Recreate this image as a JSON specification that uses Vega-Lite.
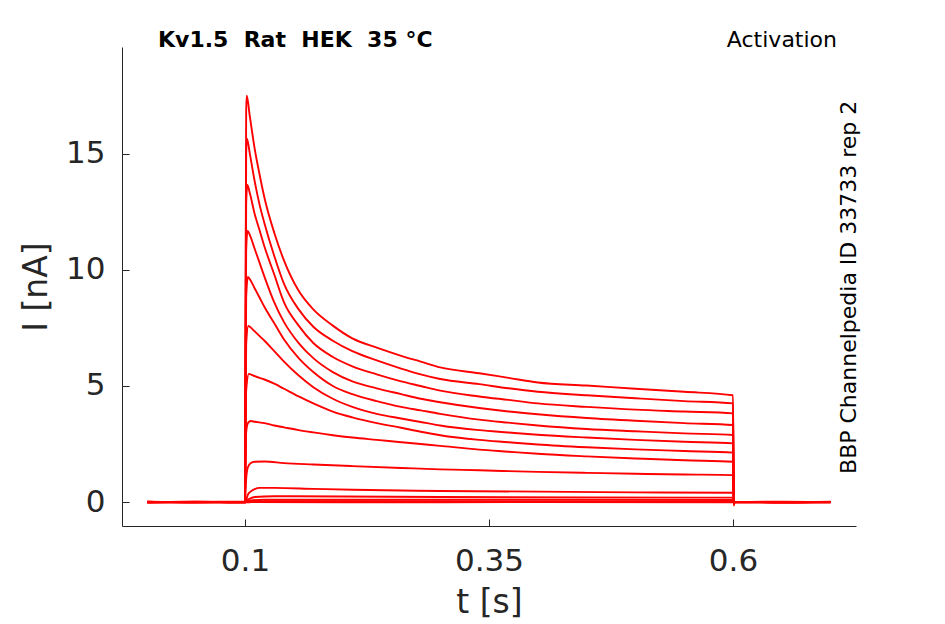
{
  "$schema": "https://vega.github.io/schema/vega-lite/v6.json",
  "width": 734,
  "height": 479,
  "autosize": {"type": "none"},
  "padding": {"left": 122, "top": 47, "right": 89, "bottom": 98},
  "background": "white",
  "layer": [
    {
      "data": {
        "values": [
          {"s":1,"t":0,"i":0.02},{"s":1,"t":0.05,"i":-0.01},{"s":1,"t":0.1,"i":0.01},{"s":1,"t":0.1012,"i":16.8},{"s":1,"t":0.1018,"i":17.5},
          {"s":1,"t":0.105,"i":16.6},{"s":1,"t":0.11,"i":15.2},{"s":1,"t":0.115,"i":14.1},{"s":1,"t":0.12,"i":13.1},{"s":1,"t":0.13,"i":11.6},
          {"s":1,"t":0.14,"i":10.4},{"s":1,"t":0.155,"i":9.1},{"s":1,"t":0.17,"i":8.3},{"s":1,"t":0.19,"i":7.6},{"s":1,"t":0.21,"i":7.05},
          {"s":1,"t":0.235,"i":6.65},{"s":1,"t":0.26,"i":6.3},{"s":1,"t":0.28,"i":6.05},{"s":1,"t":0.3,"i":5.8},{"s":1,"t":0.34,"i":5.55},
          {"s":1,"t":0.37,"i":5.35},{"s":1,"t":0.4,"i":5.15},{"s":1,"t":0.45,"i":5.02},{"s":1,"t":0.5,"i":4.88},{"s":1,"t":0.55,"i":4.75},
          {"s":1,"t":0.6,"i":4.6},{"s":1,"t":0.6008,"i":-0.15},{"s":1,"t":0.6016,"i":0.01},{"s":1,"t":0.65,"i":-0.01},{"s":1,"t":0.7,"i":0.01},

          {"s":2,"t":0,"i":0},{"s":2,"t":0.05,"i":0.02},{"s":2,"t":0.1,"i":-0.01},{"s":2,"t":0.1012,"i":15.0},{"s":2,"t":0.102,"i":15.65},
          {"s":2,"t":0.105,"i":15.0},{"s":2,"t":0.11,"i":13.8},{"s":2,"t":0.115,"i":12.8},{"s":2,"t":0.12,"i":12.0},{"s":2,"t":0.13,"i":10.6},
          {"s":2,"t":0.14,"i":9.4},{"s":2,"t":0.155,"i":8.3},{"s":2,"t":0.17,"i":7.55},{"s":2,"t":0.19,"i":6.95},{"s":2,"t":0.21,"i":6.5},
          {"s":2,"t":0.235,"i":6.1},{"s":2,"t":0.26,"i":5.75},{"s":2,"t":0.28,"i":5.5},{"s":2,"t":0.3,"i":5.3},{"s":2,"t":0.34,"i":5.08},
          {"s":2,"t":0.37,"i":4.9},{"s":2,"t":0.4,"i":4.75},{"s":2,"t":0.45,"i":4.6},{"s":2,"t":0.5,"i":4.47},{"s":2,"t":0.55,"i":4.35},
          {"s":2,"t":0.6,"i":4.25},{"s":2,"t":0.6008,"i":-0.12},{"s":2,"t":0.6016,"i":0},{"s":2,"t":0.65,"i":0.01},{"s":2,"t":0.7,"i":0},

          {"s":3,"t":0,"i":-0.01},{"s":3,"t":0.05,"i":0.01},{"s":3,"t":0.1,"i":0.02},{"s":3,"t":0.1012,"i":12.8},{"s":3,"t":0.1024,"i":13.66},
          {"s":3,"t":0.105,"i":13.3},{"s":3,"t":0.11,"i":12.4},{"s":3,"t":0.115,"i":11.7},{"s":3,"t":0.12,"i":11.0},{"s":3,"t":0.13,"i":9.8},
          {"s":3,"t":0.14,"i":8.6},{"s":3,"t":0.155,"i":7.6},{"s":3,"t":0.17,"i":6.85},{"s":3,"t":0.19,"i":6.25},{"s":3,"t":0.21,"i":5.85},
          {"s":3,"t":0.235,"i":5.5},{"s":3,"t":0.26,"i":5.2},{"s":3,"t":0.28,"i":5.0},{"s":3,"t":0.3,"i":4.8},{"s":3,"t":0.34,"i":4.55},
          {"s":3,"t":0.37,"i":4.4},{"s":3,"t":0.4,"i":4.25},{"s":3,"t":0.45,"i":4.1},{"s":3,"t":0.5,"i":3.98},{"s":3,"t":0.55,"i":3.9},
          {"s":3,"t":0.6,"i":3.82},{"s":3,"t":0.6008,"i":-0.1},{"s":3,"t":0.6016,"i":0.02},{"s":3,"t":0.65,"i":0},{"s":3,"t":0.7,"i":-0.01},

          {"s":4,"t":0,"i":0.01},{"s":4,"t":0.05,"i":-0.02},{"s":4,"t":0.1,"i":0},{"s":4,"t":0.1012,"i":10.8},{"s":4,"t":0.1026,"i":11.68},
          {"s":4,"t":0.105,"i":11.5},{"s":4,"t":0.11,"i":10.9},{"s":4,"t":0.115,"i":10.3},{"s":4,"t":0.12,"i":9.7},{"s":4,"t":0.13,"i":8.6},
          {"s":4,"t":0.14,"i":7.75},{"s":4,"t":0.155,"i":6.85},{"s":4,"t":0.17,"i":6.2},{"s":4,"t":0.19,"i":5.6},{"s":4,"t":0.21,"i":5.2},
          {"s":4,"t":0.235,"i":4.9},{"s":4,"t":0.26,"i":4.65},{"s":4,"t":0.28,"i":4.45},{"s":4,"t":0.3,"i":4.3},{"s":4,"t":0.34,"i":4.05},
          {"s":4,"t":0.37,"i":3.9},{"s":4,"t":0.4,"i":3.78},{"s":4,"t":0.45,"i":3.62},{"s":4,"t":0.5,"i":3.5},{"s":4,"t":0.55,"i":3.4},
          {"s":4,"t":0.6,"i":3.32},{"s":4,"t":0.6008,"i":-0.08},{"s":4,"t":0.6016,"i":0},{"s":4,"t":0.65,"i":0.02},{"s":4,"t":0.7,"i":0},

          {"s":5,"t":0,"i":0},{"s":5,"t":0.05,"i":0.01},{"s":5,"t":0.1,"i":-0.02},{"s":5,"t":0.1012,"i":8.8},{"s":5,"t":0.103,"i":9.7},
          {"s":5,"t":0.105,"i":9.6},{"s":5,"t":0.11,"i":9.2},{"s":5,"t":0.115,"i":8.8},{"s":5,"t":0.12,"i":8.4},{"s":5,"t":0.13,"i":7.7},
          {"s":5,"t":0.14,"i":7.0},{"s":5,"t":0.155,"i":6.2},{"s":5,"t":0.17,"i":5.6},{"s":5,"t":0.19,"i":5.0},{"s":5,"t":0.21,"i":4.65},
          {"s":5,"t":0.235,"i":4.35},{"s":5,"t":0.26,"i":4.1},{"s":5,"t":0.28,"i":3.95},{"s":5,"t":0.3,"i":3.8},{"s":5,"t":0.34,"i":3.55},
          {"s":5,"t":0.37,"i":3.42},{"s":5,"t":0.4,"i":3.3},{"s":5,"t":0.45,"i":3.15},{"s":5,"t":0.5,"i":3.05},{"s":5,"t":0.55,"i":2.96},
          {"s":5,"t":0.6,"i":2.89},{"s":5,"t":0.6008,"i":-0.06},{"s":5,"t":0.6016,"i":0.01},{"s":5,"t":0.65,"i":-0.01},{"s":5,"t":0.7,"i":0.01},

          {"s":6,"t":0,"i":0.02},{"s":6,"t":0.05,"i":0},{"s":6,"t":0.1,"i":0.01},{"s":6,"t":0.1012,"i":6.8},{"s":6,"t":0.1035,"i":7.59},
          {"s":6,"t":0.105,"i":7.55},{"s":6,"t":0.11,"i":7.35},{"s":6,"t":0.115,"i":7.15},{"s":6,"t":0.12,"i":6.95},{"s":6,"t":0.13,"i":6.5},
          {"s":6,"t":0.14,"i":6.05},{"s":6,"t":0.155,"i":5.45},{"s":6,"t":0.17,"i":4.95},{"s":6,"t":0.19,"i":4.45},{"s":6,"t":0.21,"i":4.1},
          {"s":6,"t":0.235,"i":3.8},{"s":6,"t":0.26,"i":3.6},{"s":6,"t":0.28,"i":3.45},{"s":6,"t":0.3,"i":3.3},{"s":6,"t":0.34,"i":3.1},
          {"s":6,"t":0.37,"i":3.0},{"s":6,"t":0.4,"i":2.9},{"s":6,"t":0.45,"i":2.78},{"s":6,"t":0.5,"i":2.68},{"s":6,"t":0.55,"i":2.6},
          {"s":6,"t":0.6,"i":2.53},{"s":6,"t":0.6008,"i":-0.05},{"s":6,"t":0.6016,"i":0},{"s":6,"t":0.65,"i":0.01},{"s":6,"t":0.7,"i":-0.01},

          {"s":7,"t":0,"i":-0.02},{"s":7,"t":0.05,"i":0.01},{"s":7,"t":0.1,"i":0},{"s":7,"t":0.1012,"i":4.8},{"s":7,"t":0.104,"i":5.52},
          {"s":7,"t":0.107,"i":5.48},{"s":7,"t":0.11,"i":5.42},{"s":7,"t":0.12,"i":5.28},{"s":7,"t":0.13,"i":5.1},
          {"s":7,"t":0.14,"i":4.88},{"s":7,"t":0.155,"i":4.55},{"s":7,"t":0.17,"i":4.25},{"s":7,"t":0.19,"i":3.9},{"s":7,"t":0.21,"i":3.65},
          {"s":7,"t":0.235,"i":3.4},{"s":7,"t":0.26,"i":3.2},{"s":7,"t":0.28,"i":3.03},{"s":7,"t":0.3,"i":2.88},{"s":7,"t":0.34,"i":2.68},
          {"s":7,"t":0.37,"i":2.58},{"s":7,"t":0.4,"i":2.48},{"s":7,"t":0.45,"i":2.36},{"s":7,"t":0.5,"i":2.27},{"s":7,"t":0.55,"i":2.2},
          {"s":7,"t":0.6,"i":2.13},{"s":7,"t":0.6008,"i":-0.04},{"s":7,"t":0.6016,"i":0.01},{"s":7,"t":0.65,"i":0},{"s":7,"t":0.7,"i":0.02},

          {"s":8,"t":0,"i":0.01},{"s":8,"t":0.05,"i":-0.01},{"s":8,"t":0.1,"i":0.01},{"s":8,"t":0.1012,"i":3.0},{"s":8,"t":0.103,"i":3.4},
          {"s":8,"t":0.106,"i":3.49},{"s":8,"t":0.11,"i":3.46},{"s":8,"t":0.12,"i":3.4},{"s":8,"t":0.13,"i":3.3},
          {"s":8,"t":0.14,"i":3.22},{"s":8,"t":0.155,"i":3.1},{"s":8,"t":0.17,"i":3.0},{"s":8,"t":0.19,"i":2.88},{"s":8,"t":0.21,"i":2.78},
          {"s":8,"t":0.235,"i":2.68},{"s":8,"t":0.26,"i":2.58},{"s":8,"t":0.28,"i":2.5},{"s":8,"t":0.3,"i":2.42},{"s":8,"t":0.34,"i":2.26},
          {"s":8,"t":0.37,"i":2.17},{"s":8,"t":0.4,"i":2.08},{"s":8,"t":0.45,"i":1.97},{"s":8,"t":0.5,"i":1.88},{"s":8,"t":0.55,"i":1.8},
          {"s":8,"t":0.6,"i":1.74},{"s":8,"t":0.6008,"i":-0.03},{"s":8,"t":0.6016,"i":0},{"s":8,"t":0.65,"i":-0.02},{"s":8,"t":0.7,"i":0},

          {"s":9,"t":0,"i":0},{"s":9,"t":0.05,"i":0.02},{"s":9,"t":0.1,"i":0},{"s":9,"t":0.1012,"i":1.0},{"s":9,"t":0.103,"i":1.5},
          {"s":9,"t":0.106,"i":1.68},{"s":9,"t":0.11,"i":1.74},{"s":9,"t":0.12,"i":1.75},{"s":9,"t":0.14,"i":1.68},{"s":9,"t":0.17,"i":1.62},
          {"s":9,"t":0.21,"i":1.55},{"s":9,"t":0.26,"i":1.47},{"s":9,"t":0.3,"i":1.41},{"s":9,"t":0.34,"i":1.37},{"s":9,"t":0.4,"i":1.3},
          {"s":9,"t":0.45,"i":1.26},{"s":9,"t":0.5,"i":1.22},{"s":9,"t":0.55,"i":1.19},{"s":9,"t":0.6,"i":1.16},
          {"s":9,"t":0.6008,"i":-0.02},{"s":9,"t":0.6016,"i":0.01},{"s":9,"t":0.65,"i":0.01},{"s":9,"t":0.7,"i":-0.01},

          {"s":10,"t":0,"i":0.01},{"s":10,"t":0.05,"i":0},{"s":10,"t":0.1,"i":-0.01},{"s":10,"t":0.1012,"i":0.1},{"s":10,"t":0.103,"i":0.32},
          {"s":10,"t":0.106,"i":0.46},{"s":10,"t":0.11,"i":0.56},{"s":10,"t":0.115,"i":0.61},{"s":10,"t":0.13,"i":0.61},{"s":10,"t":0.17,"i":0.57},
          {"s":10,"t":0.21,"i":0.53},{"s":10,"t":0.26,"i":0.5},{"s":10,"t":0.3,"i":0.48},{"s":10,"t":0.4,"i":0.45},{"s":10,"t":0.5,"i":0.42},
          {"s":10,"t":0.6,"i":0.4},{"s":10,"t":0.6008,"i":-0.02},{"s":10,"t":0.6016,"i":0},{"s":10,"t":0.65,"i":0},{"s":10,"t":0.7,"i":0.01},

          {"s":11,"t":0,"i":-0.01},{"s":11,"t":0.05,"i":0.01},{"s":11,"t":0.1,"i":0.01},{"s":11,"t":0.1012,"i":0.05},{"s":11,"t":0.105,"i":0.15},
          {"s":11,"t":0.11,"i":0.22},{"s":11,"t":0.13,"i":0.25},{"s":11,"t":0.2,"i":0.24},{"s":11,"t":0.3,"i":0.22},{"s":11,"t":0.45,"i":0.2},
          {"s":11,"t":0.6,"i":0.19},{"s":11,"t":0.6008,"i":-0.01},{"s":11,"t":0.6016,"i":0.01},{"s":11,"t":0.65,"i":-0.01},{"s":11,"t":0.7,"i":0},

          {"s":12,"t":0,"i":0.02},{"s":12,"t":0.05,"i":-0.01},{"s":12,"t":0.1,"i":0},{"s":12,"t":0.105,"i":0.06},{"s":12,"t":0.12,"i":0.1},
          {"s":12,"t":0.3,"i":0.1},{"s":12,"t":0.6,"i":0.09},{"s":12,"t":0.6008,"i":-0.01},{"s":12,"t":0.6016,"i":0},{"s":12,"t":0.7,"i":0.01},

          {"s":13,"t":0,"i":0},{"s":13,"t":0.05,"i":0.01},{"s":13,"t":0.1,"i":-0.01},{"s":13,"t":0.12,"i":0.04},{"s":13,"t":0.35,"i":0.03},
          {"s":13,"t":0.6,"i":0.03},{"s":13,"t":0.6016,"i":-0.01},{"s":13,"t":0.65,"i":0.01},{"s":13,"t":0.7,"i":0},

          {"s":14,"t":0,"i":-0.02},{"s":14,"t":0.05,"i":0},{"s":14,"t":0.1,"i":0},{"s":14,"t":0.2,"i":-0.01},{"s":14,"t":0.4,"i":0},
          {"s":14,"t":0.6,"i":-0.01},{"s":14,"t":0.65,"i":-0.02},{"s":14,"t":0.7,"i":0}
        ]
      },
      "mark": {"type": "line", "color": "#ff0000", "strokeWidth": 1.9, "interpolate": "monotone", "clip": true},
      "encoding": {
        "x": {
          "field": "t",
          "type": "quantitative",
          "title": "t [s]",
          "scale": {"domain": [-0.026, 0.726], "nice": false, "zero": false},
          "axis": {"values": [0.1, 0.35, 0.6], "format": "~g"}
        },
        "y": {
          "field": "i",
          "type": "quantitative",
          "title": "I [nA]",
          "scale": {"domain": [-1.03, 19.6], "nice": false, "zero": false},
          "axis": {"values": [0, 5, 10, 15]}
        },
        "detail": {"field": "s", "type": "nominal"}
      }
    },
    {
      "data": {"values": [{"label": "Kv1.5\u00a0\u00a0Rat\u00a0\u00a0HEK\u00a0\u00a035\u00a0°C"}]},
      "mark": {"type": "text", "align": "left", "baseline": "alphabetic", "dx": 36, "font": "DejaVu Sans", "fontSize": 22, "fontWeight": "bold", "color": "black"},
      "encoding": {
        "x": {"datum": -0.026, "type": "quantitative", "title": "t [s]"},
        "y": {"datum": 19.6, "type": "quantitative", "title": "I [nA]"},
        "text": {"field": "label"}
      }
    },
    {
      "data": {"values": [{"label": "Activation"}]},
      "mark": {"type": "text", "align": "right", "baseline": "alphabetic", "dx": -19, "font": "DejaVu Sans", "fontSize": 22, "color": "black"},
      "encoding": {
        "x": {"datum": 0.726, "type": "quantitative", "title": "t [s]"},
        "y": {"datum": 19.6, "type": "quantitative", "title": "I [nA]"},
        "text": {"field": "label"}
      }
    },
    {
      "data": {"values": [{"label": "BBP Channelpedia ID 33733 rep 2"}]},
      "mark": {"type": "text", "align": "center", "baseline": "alphabetic", "angle": 270, "font": "DejaVu Sans", "fontSize": 22, "color": "black"},
      "encoding": {
        "x": {"datum": 0.726, "type": "quantitative", "title": "t [s]"},
        "y": {"datum": 9.25, "type": "quantitative", "title": "I [nA]"},
        "text": {"field": "label"}
      }
    }
  ],
  "config": {
    "view": {"stroke": null},
    "axis": {
      "grid": false,
      "domainColor": "#262626",
      "domainWidth": 1,
      "tickColor": "#262626",
      "tickSize": -7,
      "tickWidth": 1,
      "labelFont": "DejaVu Sans",
      "labelFontSize": 31,
      "labelColor": "#262626",
      "titleFont": "DejaVu Sans",
      "titleFontSize": 33,
      "titleFontWeight": "normal",
      "titleColor": "#262626"
    },
    "axisX": {"labelPadding": 27, "titlePadding": 10},
    "axisY": {"labelPadding": 24, "titlePadding": 12}
  }
}
